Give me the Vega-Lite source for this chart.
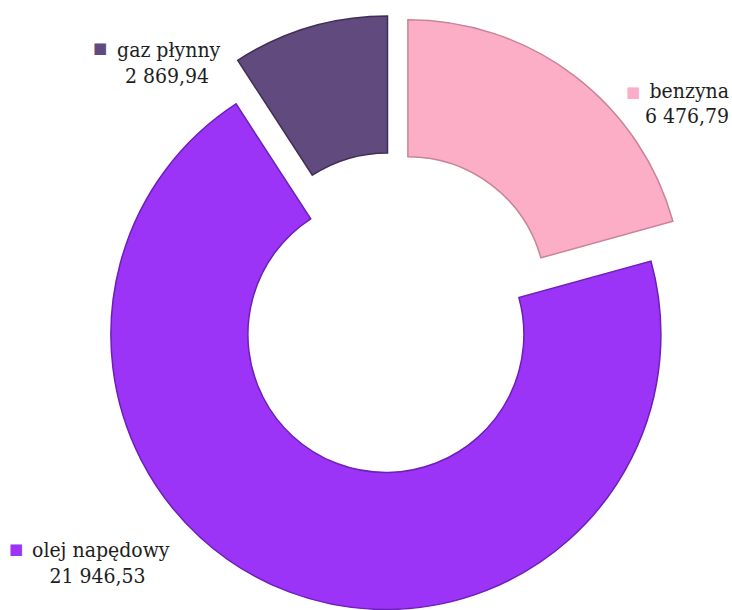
{
  "$schema": "https://vega.github.io/schema/vega-lite/v6.json",
  "width": 676,
  "height": 594,
  "autosize": {"type": "none"},
  "padding": {"left": 56, "top": 16, "right": 0, "bottom": 0},
  "background": "white",
  "config": {
    "view": {"stroke": null},
    "locale": {"number": {"decimal": ",", "thousands": " ", "grouping": [3], "currency": ["", " zł"]}}
  },
  "data": {
    "values": [
      {"lp": 1, "paliwo": "benzyna", "wartosc": 6476.79},
      {"lp": 2, "paliwo": "olej napędowy", "wartosc": 21946.53},
      {"lp": 3, "paliwo": "gaz płynny", "wartosc": 2869.94}
    ]
  },
  "encoding": {
    "theta": {"field": "wartosc", "type": "quantitative", "stack": true},
    "order": {"field": "lp", "type": "quantitative"},
    "color": {
      "field": "paliwo", "type": "nominal", "legend": null,
      "scale": {"domain": ["benzyna", "olej napędowy", "gaz płynny"], "range": ["#FBAEC6", "#9B34F7", "#614A7D"]}
    }
  },
  "layer": [
    {
      "mark": {"type": "arc", "radius": 275, "radius2": 138, "xOffset": 13.9, "yOffset": -18.3, "stroke": "#C98499", "strokeWidth": 1.5},
      "encoding": {"opacity": {"condition": {"test": "datum.paliwo === 'benzyna'", "value": 1}, "value": 0}}
    },
    {
      "mark": {"type": "arc", "radius": 275, "radius2": 138, "xOffset": -8.1, "yOffset": 21.5, "stroke": "#6E1FB8", "strokeWidth": 1.5},
      "encoding": {"opacity": {"condition": {"test": "datum.paliwo === 'olej napędowy'", "value": 1}, "value": 0}}
    },
    {
      "mark": {"type": "arc", "radius": 275, "radius2": 138, "xOffset": -6.5, "yOffset": -22.1, "stroke": "#3F2E55", "strokeWidth": 1.5},
      "encoding": {"opacity": {"condition": {"test": "datum.paliwo === 'gaz płynny'", "value": 1}, "value": 0}}
    },
    {
      "mark": {"type": "text", "radius": 300, "align": "center", "baseline": "middle", "dx": -208.7, "dy": 22.6, "font": "DejaVu Sans", "fontSize": 15},
      "encoding": {"text": {"condition": {"test": "datum.paliwo === 'gaz płynny'", "value": "■"}, "value": ""}}
    },
    {
      "mark": {"type": "text", "radius": 300, "align": "left", "baseline": "alphabetic", "dx": -191.7, "dy": 31.6, "font": "DejaVu Serif Condensed, DejaVu Serif", "fontSize": 21},
      "encoding": {"color": {"value": "#1E1E1E"}, "text": {"condition": {"test": "datum.paliwo === 'gaz płynny'", "field": "paliwo"}, "value": ""}}
    },
    {
      "mark": {"type": "text", "radius": 300, "align": "center", "baseline": "alphabetic", "dx": -141.7, "dy": 57.6, "font": "DejaVu Serif Condensed, DejaVu Serif", "fontSize": 21},
      "encoding": {"color": {"value": "#1E1E1E"}, "text": {"condition": {"test": "datum.paliwo === 'gaz płynny'", "field": "wartosc", "type": "quantitative", "format": ",.2f"}, "value": ""}}
    },
    {
      "mark": {"type": "text", "radius": 300, "align": "center", "baseline": "middle", "dx": 57.4, "dy": 17.8, "font": "DejaVu Sans", "fontSize": 15},
      "encoding": {"text": {"condition": {"test": "datum.paliwo === 'benzyna'", "value": "■"}, "value": ""}}
    },
    {
      "mark": {"type": "text", "radius": 300, "align": "right", "baseline": "alphabetic", "dx": 153.4, "dy": 23.8, "font": "DejaVu Serif Condensed, DejaVu Serif", "fontSize": 21},
      "encoding": {"color": {"value": "#1E1E1E"}, "text": {"condition": {"test": "datum.paliwo === 'benzyna'", "field": "paliwo"}, "value": ""}}
    },
    {
      "mark": {"type": "text", "radius": 300, "align": "right", "baseline": "alphabetic", "dx": 153.4, "dy": 48.8, "font": "DejaVu Serif Condensed, DejaVu Serif", "fontSize": 21},
      "encoding": {"color": {"value": "#1E1E1E"}, "text": {"condition": {"test": "datum.paliwo === 'benzyna'", "field": "wartosc", "type": "quantitative", "format": ",.2f"}, "value": ""}}
    },
    {
      "mark": {"type": "text", "radius": 300, "align": "center", "baseline": "middle", "dx": -271.7, "dy": -44.5, "font": "DejaVu Sans", "fontSize": 15},
      "encoding": {"text": {"condition": {"test": "datum.paliwo === 'olej napędowy'", "value": "■"}, "value": ""}}
    },
    {
      "mark": {"type": "text", "radius": 300, "align": "left", "baseline": "alphabetic", "dx": -255.7, "dy": -36.5, "font": "DejaVu Serif Condensed, DejaVu Serif", "fontSize": 21},
      "encoding": {"color": {"value": "#1E1E1E"}, "text": {"condition": {"test": "datum.paliwo === 'olej napędowy'", "field": "paliwo"}, "value": ""}}
    },
    {
      "mark": {"type": "text", "radius": 300, "align": "center", "baseline": "alphabetic", "dx": -190.2, "dy": -10.5, "font": "DejaVu Serif Condensed, DejaVu Serif", "fontSize": 21},
      "encoding": {"color": {"value": "#1E1E1E"}, "text": {"condition": {"test": "datum.paliwo === 'olej napędowy'", "field": "wartosc", "type": "quantitative", "format": ",.2f"}, "value": ""}}
    }
  ]
}
